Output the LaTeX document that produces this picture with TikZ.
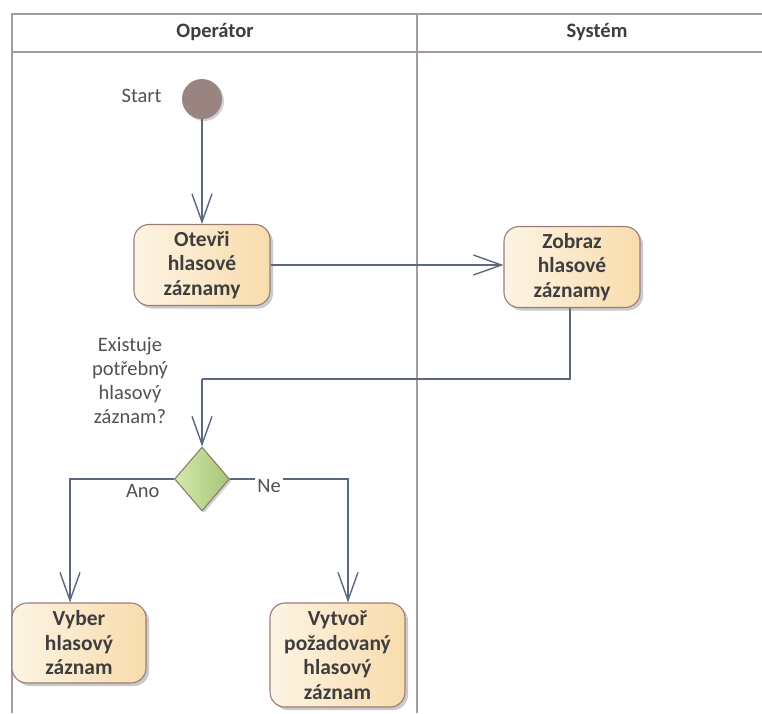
\documentclass[tikz,border=0pt]{standalone}
\usepackage{fontspec}
\setmainfont{Carlito}
\usetikzlibrary{arrows.meta,shapes.geometric,shadows}
\definecolor{lanegray}{HTML}{A59A9A}
\definecolor{flowline}{HTML}{5C6780}
\definecolor{boxedge}{HTML}{9A7D78}
\definecolor{boxleft}{HTML}{FDF4E4}
\definecolor{boxright}{HTML}{F8DCAC}
\definecolor{txt}{HTML}{3E3E3E}
\definecolor{startfill}{HTML}{9A8482}
\definecolor{decleft}{HTML}{D4E8AC}
\definecolor{decright}{HTML}{A6C676}
\definecolor{decedge}{HTML}{8C7E6A}
\tikzset{
  lane/.style={draw=lanegray, line width=2.4pt},
  lanetitle/.style={font=\fontsize{20.5}{24}\selectfont\bfseries, text=txt},
  action/.style={draw=boxedge, line width=1.1pt, rounded corners=15pt,
    left color=boxleft, right color=boxright, align=center,
    font=\fontsize{21.5}{24.5}\selectfont\bfseries, text=txt, inner sep=0pt,
    drop shadow={shadow xshift=3pt, shadow yshift=-3pt, opacity=0.35, fill=black!60}},
  flow/.style={draw=flowline, line width=1.4pt,
    -{Straight Barb[length=28pt, width=20pt, line width=1.4pt]}},
  plain/.style={draw=flowline, line width=1.4pt},
  note/.style={font=\fontsize{20.5}{24}\selectfont, text=txt!90, align=center}
}
\begin{document}
\begin{tikzpicture}[x=1pt,y=-1pt]
\useasboundingbox (0,0) rectangle (762,713);

% swimlanes
\draw[lane] (12,713) -- (12,14) -- (770,14);
\draw[lane] (12,52) -- (770,52);
\draw[lane] (417,14) -- (417,713);
\node[lanetitle] (lop) at (215,32) {Operátor};
\node[lanetitle] (lsy) at (597,32) {Systém};

% initial node
\node[circle, fill=startfill, minimum size=40pt, inner sep=0pt,
  drop shadow={shadow xshift=2pt, shadow yshift=-2pt, opacity=0.3, fill=black!60}] (s) at (202,99) {};
\node[note, anchor=east] (sl) at (165,96) {Start};

% actions
\node[action, minimum width=136pt, minimum height=81pt] (o) at (202,265) {Otevři\\hlasové\\záznamy};
\node[action, minimum width=136pt, minimum height=81pt] (z) at (572,267) {Zobraz\\hlasové\\záznamy};
\node[action, minimum width=134pt, minimum height=80pt] (v) at (79,643) {Vyber\\hlasový\\záznam};
\node[action, minimum width=135pt, minimum height=104pt] (p) at (337.5,655) {Vytvoř\\požadovaný\\hlasový\\záznam};

% decision
\node[diamond, draw=decedge, line width=1.1pt, left color=decleft, right color=decright,
  minimum width=55pt, minimum height=64pt, inner sep=0pt,
  drop shadow={shadow xshift=2pt, shadow yshift=-2pt, opacity=0.3, fill=black!60}] (d) at (202,479) {};
\node[note] (q) at (130,381) {Existuje\\potřebný\\hlasový\\záznam?};

% connectors
\coordinate (jn) at (202,379);
\draw[flow] (s) -- (o);
\draw[flow] (o.east) -- (o.east -| z.west);
\draw[plain] ([xshift=-2pt]z.south) |- (jn);
\draw[flow] (jn) -- (d.north);
\draw[flow] (d.west) -| ([xshift=-9pt]v.north);
\draw[flow] (d.east) -| ([xshift=10.5pt]p.north);
\node[note, anchor=north east] (ano) at (163,481) {Ano};
\node[note, fill=white, inner sep=2pt] (ne) at (269,486) {Ne};
\end{tikzpicture}
\end{document}
